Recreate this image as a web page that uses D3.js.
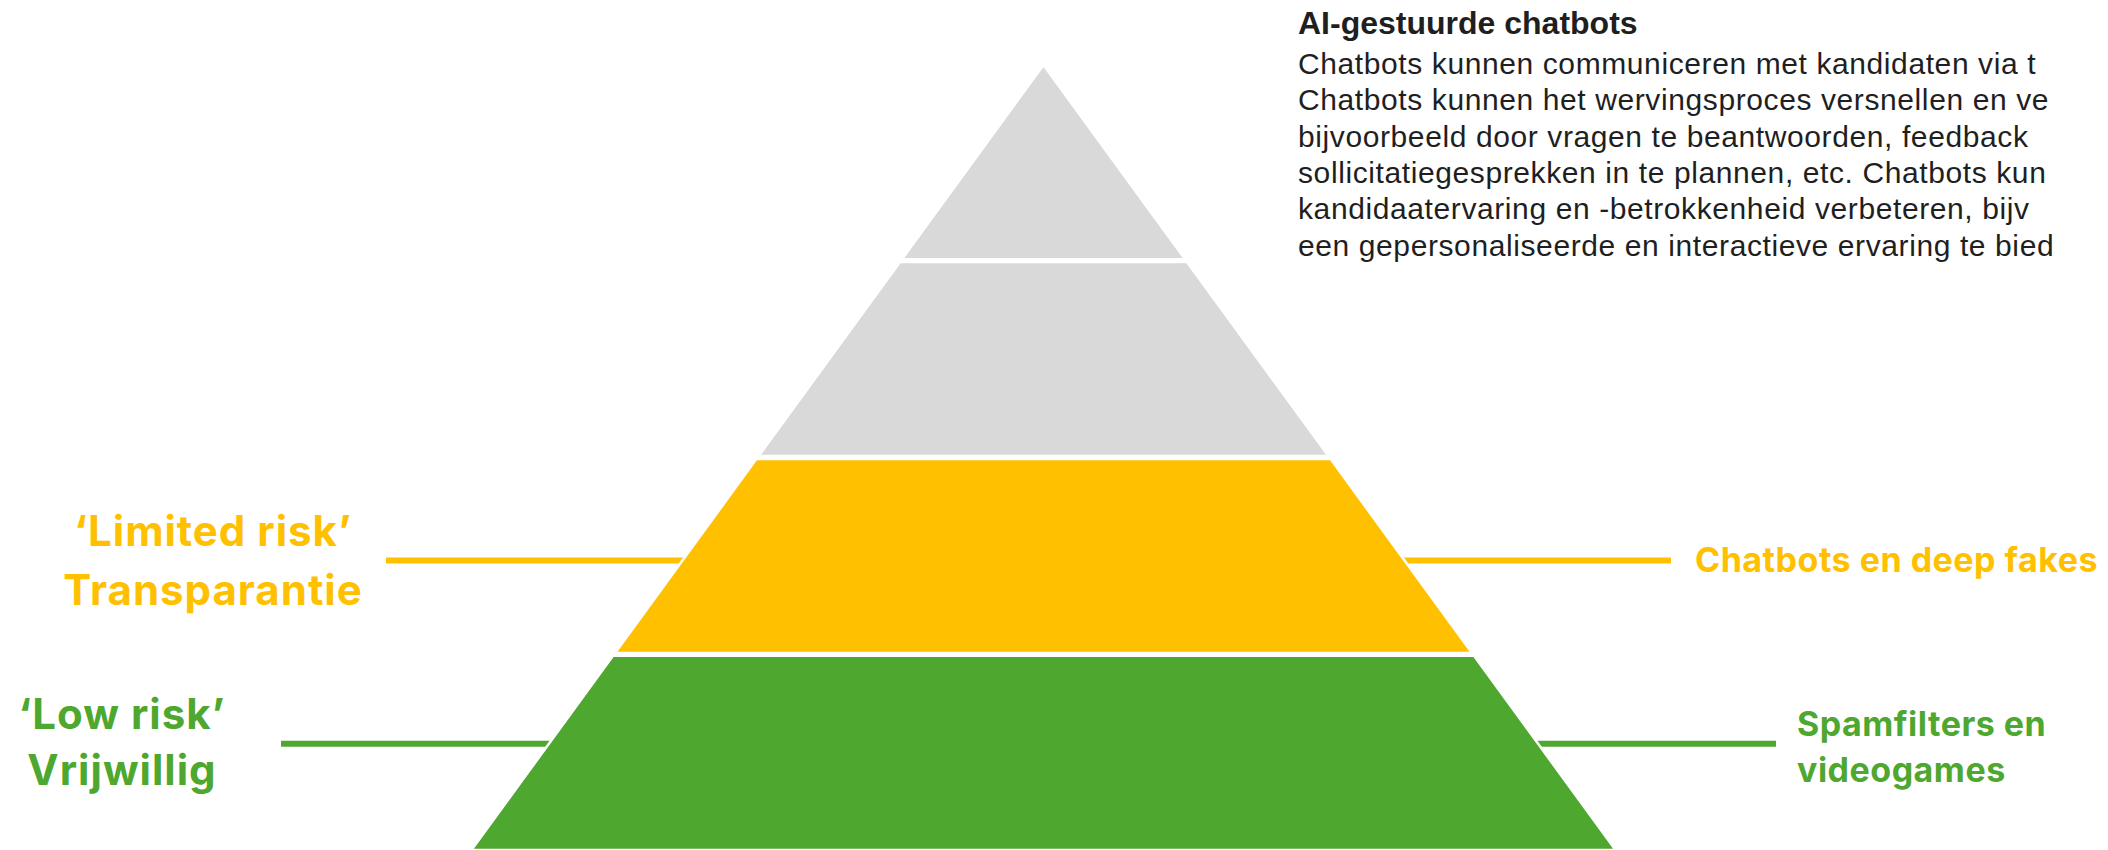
<!DOCTYPE html>
<html>
<head>
<meta charset="utf-8">
<script src="https://cdn.jsdelivr.net/npm/d3@7"></script>
<style>
  body { margin: 0; background: #fff; }
  svg { display: block; }
</style>
</head>
<body>
<div id="chart"></div>
<script>
// Pyramid tiers, top to bottom
const tiers = ["unacceptable", "high", "limited", "low"];
const tierColors = ["#d9d9d9", "#d9d9d9", "#ffc000", "#4ea72e"];

// Callout texts per tier (empty = no callout)
const leftLabels = [[], [], ["‘Limited risk’", "Transparantie"], ["‘Low risk’", "Vrijwillig"]];
const rightLabels = [[], [], ["Chatbots en deep fakes"], ["Spamfilters en", "videogames"]];

// Note in the top right corner (runs off the page in the original)
const noteTitle = "AI-gestuurde chatbots";
const noteLines = [
    "Chatbots kunnen communiceren met kandidaten via t",
    "Chatbots kunnen het wervingsproces versnellen en ve",
    "bijvoorbeeld door vragen te beantwoorden, feedback",
    "sollicitatiegesprekken in te plannen, etc. Chatbots kun",
    "kandidaatervaring en -betrokkenheid verbeteren, bijv",
    "een gepersonaliseerde en interactieve ervaring te bied"
];

const width = 2108, height = 850;
const apexY = 65, baseY = 850, cx = 1043.5, baseHalf = 572;

// layout of the callouts (line height inside band, line ends, text anchors)
const calloutLayout = {
    limited: { f: 0.523, x0: 386, x1: 1671, leftX: 213, leftDy: [-14, 45], rightX: 1695, rightDy: [12], lSize: 42, rSize: 34 },
    low:     { f: 0.453, x0: 281, x1: 1776, leftX: 122, leftDy: [-15, 41], rightX: 1797, rightDy: [-8, 38], lSize: 42, rSize: 34 }
};

const svg = d3.select("#chart")
    .append("svg")
    .attr("width", width)
    .attr("height", height);

svg.append("rect").attr("width", width).attr("height", height).attr("fill", "#fff");

const yScale = d3.scaleBand().domain(tiers).range([apexY, baseY]).paddingInner(0.014);
const halfW = d3.scaleLinear().domain([apexY, baseY]).range([0, baseHalf]);
const color = d3.scaleOrdinal().domain(tiers).range(tierColors);

const labelFont = "Inter, 'Open Sans', sans-serif";

// connector lines go behind the pyramid
tiers.forEach((t, i) => {
    const lay = calloutLayout[t];
    if (!lay) return;
    const y = yScale(t) + yScale.bandwidth() * lay.f;
    svg.append("line")
        .attr("x1", lay.x0).attr("x2", lay.x1)
        .attr("y1", y).attr("y2", y)
        .attr("stroke", color(t))
        .attr("stroke-width", 6);
});

// pyramid bands
svg.append("g").selectAll("path")
    .data(tiers)
    .enter()
    .append("path")
    .attr("d", t => {
        const y0 = yScale(t), y1 = y0 + yScale.bandwidth();
        return `M${cx - halfW(y0)},${y0}L${cx + halfW(y0)},${y0}L${cx + halfW(y1)},${y1}L${cx - halfW(y1)},${y1}Z`;
    })
    .attr("fill", t => color(t))
    .attr("stroke", "#fff")
    .attr("stroke-width", 2.5)
    .attr("stroke-linejoin", "miter");

// callout texts
tiers.forEach((t, i) => {
    const lay = calloutLayout[t];
    if (!lay) return;
    const y = yScale(t) + yScale.bandwidth() * lay.f;
    leftLabels[i].forEach((s, j) => {
        svg.append("text")
            .attr("x", lay.leftX)
            .attr("y", y + lay.leftDy[j])
            .attr("text-anchor", "middle")
            .attr("font-family", labelFont)
            .attr("font-weight", 700)
            .attr("font-size", lay.lSize + "px")
            .attr("letter-spacing", 1)
            .attr("fill", color(t))
            .text(s);
    });
    rightLabels[i].forEach((s, j) => {
        svg.append("text")
            .attr("x", lay.rightX)
            .attr("y", y + lay.rightDy[j])
            .attr("font-family", labelFont)
            .attr("font-weight", 700)
            .attr("font-size", lay.rSize + "px")
            .attr("letter-spacing", 0.5)
            .attr("fill", color(t))
            .text(s);
    });
});

// note block
const note = svg.append("g")
    .attr("font-family", "'Liberation Sans', Arial, sans-serif")
    .attr("fill", "#1f1f1f");

note.append("text")
    .attr("x", 1298).attr("y", 34)
    .attr("font-weight", 700)
    .attr("font-size", "32px")
    .text(noteTitle);

note.selectAll(".line")
    .data(noteLines)
    .enter()
    .append("text")
    .attr("class", "line")
    .attr("x", 1298)
    .attr("y", (d, i) => 74 + i * 36.3)
    .attr("font-size", "30px")
    .attr("letter-spacing", 0.6)
    .text(d => d);
</script>
</body>
</html>
